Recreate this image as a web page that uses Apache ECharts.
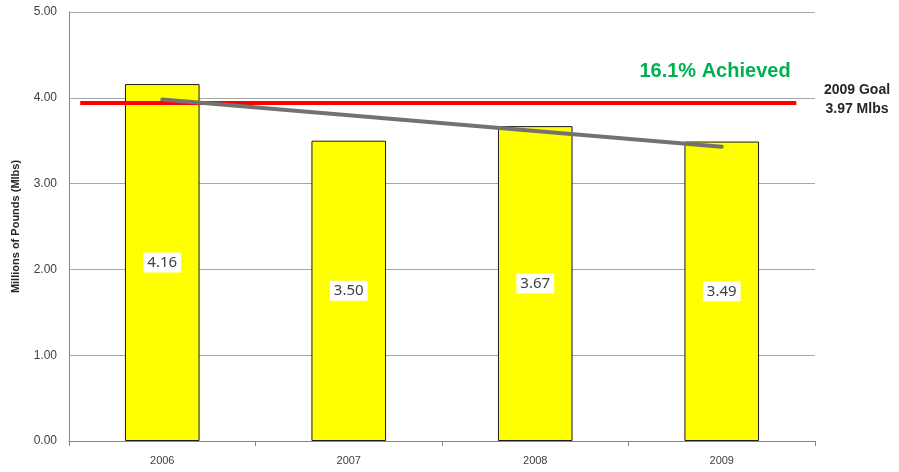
<!DOCTYPE html>
<html>
<head>
<meta charset="utf-8">
<script src="https://cdn.jsdelivr.net/npm/echarts@6/dist/echarts.min.js"></script>
<style>
  html, body { margin: 0; padding: 0; background: #fff; }
  #chart { width: 899px; height: 472px; }
</style>
</head>
<body>
<div id="chart"></div>
<script>
const years = ['2006', '2007', '2008', '2009']
const pounds = [4.16, 3.50, 3.67, 3.49]
const trendValues = [3.98, null, null, 3.43]
const goalValue = 3.94
const goalSpan = [-0.44, 3.40]
const yTicks = [0, 1, 2, 3, 4, 5]

const chart = echarts.init(document.getElementById('chart'))

const axisColor = '#868686'
const textColor = '#404040'

chart.setOption({
  animation: false,
  title: {
    text: '16.1% Achieved',
    left: 710,
    top: 56,
    textAlign: 'center',
    textStyle: { color: '#00b050', fontSize: 20, fontWeight: 'bold', fontFamily: 'Liberation Sans' },
  },
  graphic: [
    {
      type: 'text',
      x: 857,
      y: 81,
      style: {
        text: '2009 Goal\n3.97 Mlbs',
        fill: '#262626',
        font: 'bold 14px "Liberation Sans"',
        lineHeight: 19,
        align: 'center',
      },
    },
  ],
  grid: { left: 69, right: 84, top: 12, bottom: 31 },
  xAxis: [
    {
      type: 'category',
      data: years,
      axisLine: { lineStyle: { color: axisColor } },
      axisTick: { show: true, alignWithLabel: false, length: 5, lineStyle: { color: axisColor } },
      axisLabel: { color: textColor, fontSize: 11, fontFamily: 'Liberation Sans', margin: 14 },
    },
    {
      type: 'value',
      min: -0.5,
      max: 3.5,
      show: false,
      splitLine: { show: false },
    },
  ],
  yAxis: {
    type: 'value',
    min: yTicks[0],
    max: yTicks[yTicks.length - 1],
    interval: 1,
    name: 'Millions of Pounds (Mlbs)',
    nameLocation: 'middle',
    nameGap: 48,
    nameTextStyle: { color: '#262626', fontSize: 11, fontWeight: 'bold', fontFamily: 'Liberation Sans' },
    axisLine: { show: true, onZero: false, lineStyle: { color: axisColor } },
    axisTick: { show: false },
    axisLabel: {
      color: textColor,
      fontSize: 12,
      fontFamily: 'Liberation Sans',
      margin: 12,
      formatter: (v) => v.toFixed(2),
    },
    splitLine: { lineStyle: { color: '#a6a6a6' } },
  },
  series: [
    {
      type: 'bar',
      data: pounds,
      barWidth: '40%',
      itemStyle: { color: '#ffff00', borderColor: '#1a1a1a', borderWidth: 1 },
      label: {
        show: true,
        position: 'inside',
        formatter: (p) => p.value.toFixed(2),
        color: textColor,
        fontSize: 15,
        fontFamily: 'Noto Sans',
        backgroundColor: '#ffffff',
        padding: [3, 4, 2, 4],
      },
      z: 2,
    },
    {
      type: 'line',
      xAxisIndex: 1,
      data: goalSpan.map((x) => [x, goalValue]),
      symbol: 'none',
      lineStyle: { color: '#ff0000', width: 4 },
      z: 3,
    },
    {
      type: 'line',
      data: trendValues,
      connectNulls: true,
      symbol: 'none',
      lineStyle: { color: '#767171', width: 4, cap: 'round' },
      z: 4,
    },
  ],
})
</script>
</body>
</html>
